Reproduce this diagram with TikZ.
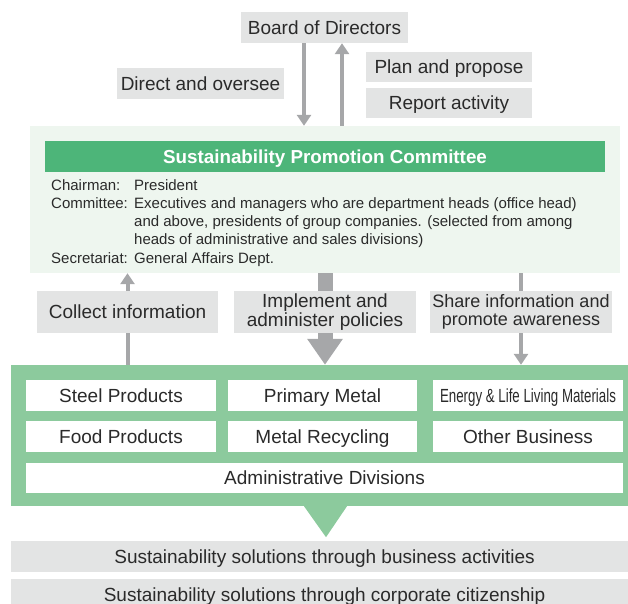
\documentclass[tikz,border=0pt]{standalone}
\usepackage{fontspec}
\setmainfont{Liberation Sans}
\usetikzlibrary{positioning,arrows.meta,backgrounds}

\definecolor{ink}{HTML}{2A2A2A}
\definecolor{boxgray}{HTML}{E3E4E4}
\definecolor{arrowgray}{HTML}{A6A7A9}
\definecolor{palegreen}{HTML}{EEF6EF}
\definecolor{headgreen}{HTML}{4DB579}
\definecolor{divgreen}{HTML}{8CCA9D}

\begin{document}
\begin{tikzpicture}[
  x=1pt, y=-1pt,
  font=\fontsize{19}{18.4}\selectfont,
  text=ink,
  gbox/.style={fill=boxgray, inner sep=0pt, text height=13.6pt, text depth=0pt},
  twoline/.style={fill=boxgray, inner sep=0pt, align=center},
  wbox/.style={fill=white, inner sep=0pt, minimum height=31pt, text height=13.6pt, text depth=0pt},
  arrow/.style={draw=arrowgray, line width=4pt, -{Triangle[width=14pt,length=11pt]}},
  bigarrow/.style={draw=arrowgray, line width=15pt, -{Triangle[width=34pt,length=26pt]}}
]
\useasboundingbox (0,0) rectangle (628,603);
\clip (0,0) rectangle (628,603);

% Board and its labels
\node[gbox, minimum width=167pt, minimum height=31pt] (board) at (324.5,27.5) {Board of Directors};
\node[gbox, minimum width=167pt, minimum height=31pt] (direct) at (200.5,83.5) {Direct and oversee};
\node[gbox, minimum width=166pt, minimum height=30pt] (plan) at (449,66.5) {Plan and propose};
\node[gbox, minimum width=166pt, minimum height=30pt] (report) at (449,103) {Report activity};

% Committee panel
\node[fill=palegreen, minimum width=590pt, minimum height=147pt, inner sep=0pt] (committee) at (325,199.5) {};
\node[fill=headgreen, minimum width=560pt, minimum height=31pt, inner sep=0pt, text=white,
      font=\fontsize{18.8}{20}\selectfont\bfseries, text height=13.5pt, text depth=0pt] (header) at (325,156.5)
  {Sustainability Promotion Committee};
\node[anchor=base west, inner sep=0pt, font=\fontsize{15}{18.3}\selectfont] (members) at (51,190) {%
  \begin{tabular}[t]{@{}p{83pt}@{}l@{}}
    Chairman: & President\\
    Committee: & Executives and managers who are department heads (office head)\\
     & and above, presidents of group companies. (selected from among\\
     & heads of administrative and sales divisions)\\
    Secretariat: & General Affairs Dept.
  \end{tabular}};

% Flow labels
\node[gbox, minimum width=181pt, minimum height=42pt] (collect) at (127.5,312) {Collect information};
\node[twoline, minimum width=182pt, minimum height=42pt] (implement) at (325,312) {Implement and\\administer policies};
\node[twoline, minimum width=182pt, minimum height=42pt, font=\fontsize{18}{18.4}\selectfont] (share) at (521,312)
  {Share information and\\promote awareness};

% Divisions panel
\node[fill=divgreen, minimum width=627pt, minimum height=141pt, inner sep=0pt] (divisions) at (324.5,435.5) {};
\fill[divgreen] ([xshift=-20.5pt]divisions.south) -- ([xshift=22.5pt]divisions.south)
  -- ([xshift=1.5pt,yshift=-31pt]divisions.south) -- cycle;

\node[wbox, minimum width=190pt] (steel) at (121,395.5) {Steel Products};
\node[wbox, minimum width=189pt] (primary) at (322.5,395.5) {Primary Metal};
\node[wbox, minimum width=190pt] (energy) at (528,395.5) {\scalebox{0.7}[1]{Energy \& Life Living Materials}};
\node[wbox, minimum width=190pt] (food) at (121,436.5) {Food Products};
\node[wbox, minimum width=189pt] (recycling) at (322.5,436.5) {Metal Recycling};
\node[wbox, minimum width=190pt] (other) at (528,436.5) {Other Business};
\node[wbox, minimum width=597pt, minimum height=30pt] (admin) at (324.5,478) {Administrative Divisions};

% Outcomes
\node[gbox, minimum width=627pt, minimum height=31pt] (business) at (324.5,556.5)
  {Sustainability solutions through business activities};
\node[gbox, minimum width=627pt, minimum height=31pt] (citizenship) at (324.5,594.5)
  {Sustainability solutions through corporate citizenship};

% Arrows (behind the boxes)
\begin{scope}[on background layer]
  \draw[arrow] ([xshift=-20.5pt]board.south) -- ([xshift=-20.5pt]board.south |- committee.north);
  \draw[arrow] ([xshift=17.5pt]board.south |- committee.north) -- ([xshift=17.5pt]board.south);
  \draw[arrow] (collect.center |- divisions.north) -- (collect.center |- committee.south);
  \draw[bigarrow] (implement.center |- committee.south) -- (implement.center |- divisions.north);
  \draw[arrow] (share.center |- committee.south) -- (share.center |- divisions.north);
\end{scope}

\end{tikzpicture}
\end{document}
